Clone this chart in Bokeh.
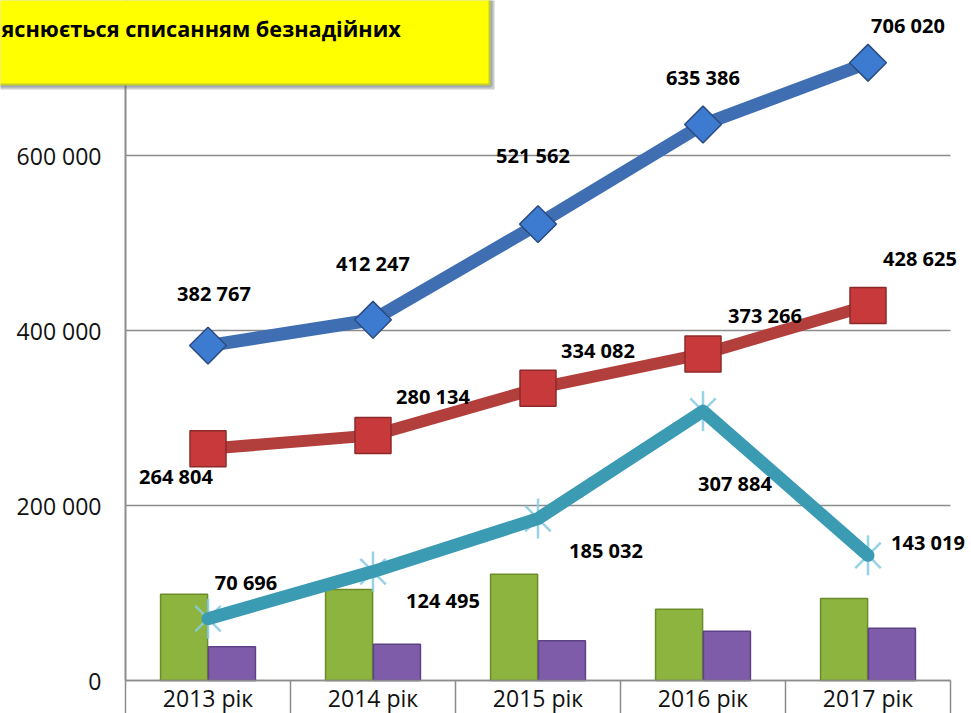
import math
from bokeh.plotting import figure
from bokeh.models import ColumnDataSource, LabelSet, Label, BoxAnnotation, Range1d, FixedTicker
from bokeh.core.properties import value
from bokeh.embed import file_html
from bokeh.resources import INLINE

# ---- data ----
categories = ["2013 рік", "2014 рік", "2015 рік", "2016 рік", "2017 рік"]
series_blue = [382767, 412247, 521562, 635386, 706020]
series_red = [264804, 280134, 334082, 373266, 428625]
series_teal = [70696, 124495, 185032, 307884, 143019]
bars_green = [98600, 104000, 121500, 81500, 93700]
bars_purple = [38500, 41500, 45300, 56300, 59800]
y_ticks = [0, 200000, 400000, 600000]
y_tick_labels = ["0", "200 000", "400 000", "600 000"]
box_text = "яснюється списанням безнадійних"

# ---- label placement (pixel offsets) ----
blue_dx = [6, 0, -5, 0, 40]
blue_dy = [52, 56, 69, 47, 37]
red_dx = [-32, 60, 60, 62, 52]
red_dy = [-28, 39, 38, 38, 47]
teal_dx = [38, 70, 68, 32, 60]
teal_dy = [36, -29, -32, -72, 13]

FONT = "Open Sans"
W, H = 971, 713
PX_LEFT, PX_RIGHT, PX_ZERO = 125, 950, 680   # plot area edges in canvas px
Y_TOP = 777143                              # value at the top edge of the canvas


def fmt(v):
    return f"{v:,}".replace(",", " ")


n = len(categories)
xc = [i + 0.5 for i in range(n)]
ux = (PX_RIGHT - PX_LEFT) / n
uy = Y_TOP / PX_ZERO

p = figure(width=W, height=H,
           x_range=Range1d(-PX_LEFT / ux, n + (W - PX_RIGHT) / ux),
           y_range=Range1d(-(H - PX_ZERO) * uy, Y_TOP),
           output_backend="svg", toolbar_location=None,
           min_border_left=0, min_border_right=0, min_border_top=0, min_border_bottom=0)
p.outline_line_color = None
p.background_fill_color = "white"

# axes (placed inside the canvas at fixed data locations)
p.xaxis.fixed_location = 0
p.xaxis.bounds = (0, n)
p.xaxis.ticker = FixedTicker(ticks=xc, minor_ticks=list(range(n + 1)))
p.xaxis.major_label_overrides = {x: c for x, c in zip(xc, categories)}
p.xaxis.major_tick_out = 0
p.xaxis.major_tick_in = 0
p.xaxis.minor_tick_out = 34
p.xaxis.minor_tick_in = 0
p.xaxis.minor_tick_line_color = "#8c8c8c"
p.xaxis.minor_tick_line_width = 1.5
p.xaxis.axis_line_color = "#8c8c8c"
p.xaxis.axis_line_width = 1.5
p.xaxis.major_label_text_font = FONT
p.xaxis.major_label_text_font_size = "23px"
p.xaxis.major_label_text_color = "#111111"
p.xaxis.major_label_standoff = -33

p.yaxis.fixed_location = 0
p.yaxis.bounds = (0, Y_TOP)
p.yaxis.ticker = FixedTicker(ticks=y_ticks)
p.yaxis.major_label_overrides = {t: s for t, s in zip(y_ticks, y_tick_labels)}
p.yaxis.major_tick_out = 0
p.yaxis.major_tick_in = 0
p.yaxis.minor_tick_out = 0
p.yaxis.minor_tick_in = 0
p.yaxis.axis_line_color = "#8c8c8c"
p.yaxis.axis_line_width = 2
p.yaxis.major_label_text_font = FONT
p.yaxis.major_label_text_font_size = "23px"
p.yaxis.major_label_text_color = "#111111"
p.yaxis.major_label_standoff = 24

p.xgrid.visible = False
p.ygrid.ticker = FixedTicker(ticks=y_ticks)
p.ygrid.cross_bounds = (0, n)
p.ygrid.grid_line_color = "#8c8c8c"
p.ygrid.grid_line_width = 1.5

# bars
p.vbar(x=[x - 0.145 for x in xc], top=bars_green, width=0.285,
       fill_color="#8db43e", line_color="#6c8c2a", line_width=1.5)
p.vbar(x=[x + 0.145 for x in xc], top=bars_purple, width=0.285,
       fill_color="#7f5ca9", line_color="#5d4286", line_width=1.5)

# teal series (asterisk markers below the line)
p.scatter(xc, series_teal, marker="x", size=36, line_color="#86cbe0", line_width=2.5, line_alpha=0.85)
p.scatter(xc, series_teal, marker="dash", angle=math.pi / 2, size=40, line_color="#86cbe0",
          line_width=2.5, line_alpha=0.85)
p.line(xc, series_teal, line_width=13, line_color="#3b9bb3", line_join="round", line_cap="round")

# red series
p.line(xc, series_red, line_width=12, line_color="#b23f3c", line_join="round")
p.scatter(xc, series_red, marker="square", size=36, fill_color="#c8393b",
          line_color="#8c2a2a", line_width=1.5)

# blue series
p.line(xc, series_blue, line_width=13, line_color="#3f6fb2", line_join="round")
p.scatter(xc, series_blue, marker="square", angle=math.pi / 4, size=26,
          fill_color="#3d7bd0", line_color="#2b4c80", line_width=1.5)

# data labels
for vals, dx, dy in ((series_blue, blue_dx, blue_dy), (series_red, red_dx, red_dy),
                     (series_teal, teal_dx, teal_dy)):
    src = ColumnDataSource(dict(x=xc, y=vals, t=[fmt(v) for v in vals], dx=dx, dy=dy))
    p.add_layout(LabelSet(x="x", y="y", text="t", x_offset="dx", y_offset="dy", source=src,
                          text_align="center", text_baseline="middle",
                          text_font=value(FONT), text_font_style="bold",
                          text_font_size="20px", text_color="#000000"))

# yellow note box (top-left, partly cut off)
p.add_layout(BoxAnnotation(left=-10, right=494, top=-20, bottom=89,
                           left_units="canvas", right_units="canvas",
                           top_units="canvas", bottom_units="canvas",
                           fill_color="#7f7f7f", fill_alpha=0.4, line_color=None))
p.add_layout(BoxAnnotation(left=-10, right=490, top=-20, bottom=85,
                           left_units="canvas", right_units="canvas",
                           top_units="canvas", bottom_units="canvas",
                           fill_color="#ffff00", fill_alpha=1.0,
                           line_color="#3c5a8c", line_width=4))
p.add_layout(Label(x=1, y=28, x_units="canvas", y_units="canvas", text=box_text,
                   text_font=FONT, text_font_style="bold", text_font_size="21.7px",
                   text_color="#000000", text_baseline="alphabetic"))

open("out.html", "w").write(file_html(p, INLINE))
